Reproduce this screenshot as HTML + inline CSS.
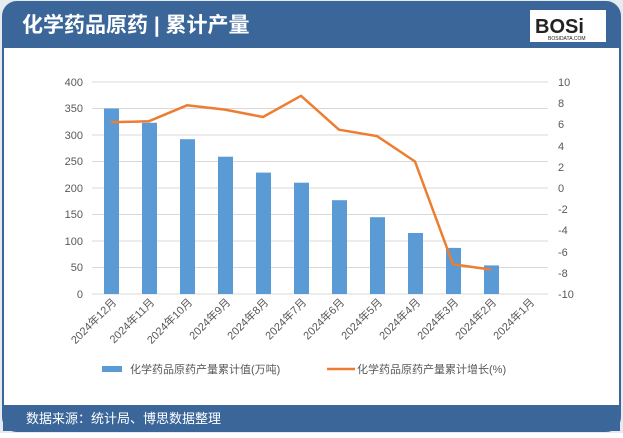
<!DOCTYPE html>
<html><head><meta charset="utf-8"><style>
body{margin:0;width:623px;height:433px;overflow:hidden;background:#fff;font-family:"Liberation Sans","Noto Sans CJK SC",sans-serif}
</style></head><body>
<svg width="623" height="433" xmlns="http://www.w3.org/2000/svg" font-family="Liberation Sans, Noto Sans CJK SC, sans-serif">
<rect x="0" y="0" width="623" height="433" fill="#e6ebf1"/>
<rect x="3" y="2" width="617" height="429" rx="14" fill="#fff" stroke="#3a6699" stroke-width="2"/>
<path d="M3 48 V16 A14 14 0 0 1 17 2 H606 A14 14 0 0 1 620 16 V48 Z" fill="#3a6699"/>
<text x="22" y="32" font-size="21" fill="#fff" font-weight="bold">化学药品原药 | 累计产量</text>
<rect x="530" y="10" width="76" height="32" fill="#fff"/>
<text x="535" y="33" font-size="20" font-weight="bold" fill="#222">BOSi</text>
<text x="548" y="40" font-size="5" fill="#222">BOSIDATA.COM</text>
<rect x="3" y="405" width="617" height="26" fill="#3a6699"/>
<text x="26" y="423" font-size="13" fill="#fff">数据来源：统计局、博思数据整理</text>
<g stroke="#d9d9d9" stroke-width="1">
<line x1="92" y1="82" x2="548" y2="82"/><line x1="92" y1="108.5" x2="548" y2="108.5"/>
<line x1="92" y1="135" x2="548" y2="135"/><line x1="92" y1="161.5" x2="548" y2="161.5"/>
<line x1="92" y1="188" x2="548" y2="188"/><line x1="92" y1="214.5" x2="548" y2="214.5"/>
<line x1="92" y1="241" x2="548" y2="241"/><line x1="92" y1="267.5" x2="548" y2="267.5"/>
<line x1="92" y1="294" x2="548" y2="294"/>
</g>
<g font-size="11" fill="#595959" text-anchor="end">
<text x="83" y="86">400</text><text x="83" y="112">350</text><text x="83" y="139">300</text>
<text x="83" y="165">250</text><text x="83" y="192">200</text><text x="83" y="218">150</text>
<text x="83" y="245">100</text><text x="83" y="271">50</text><text x="83" y="298">0</text>
</g>
<g font-size="11" fill="#595959" text-anchor="start">
<text x="558" y="86">10</text><text x="558" y="107">8</text><text x="558" y="128">6</text>
<text x="558" y="150">4</text><text x="558" y="171">2</text><text x="558" y="192">0</text>
<text x="558" y="213">-2</text><text x="558" y="234">-4</text><text x="558" y="256">-6</text>
<text x="558" y="277">-8</text><text x="558" y="298">-10</text>
</g>
<g fill="#5b9bd5">
<rect x="104" y="108.5" width="15" height="185.5"/>
<rect x="142" y="122.8" width="15" height="171.2"/>
<rect x="180" y="139.2" width="15" height="154.8"/>
<rect x="218" y="156.7" width="15" height="137.3"/>
<rect x="256" y="172.6" width="15" height="121.4"/>
<rect x="294" y="182.7" width="15" height="111.3"/>
<rect x="332" y="200.2" width="15" height="93.8"/>
<rect x="370" y="217.2" width="15" height="76.8"/>
<rect x="408" y="233" width="15" height="61"/>
<rect x="446" y="247.9" width="15" height="46.1"/>
<rect x="484" y="265.4" width="15" height="28.6"/>
</g>
<polyline fill="none" stroke="#ed7d31" stroke-width="2.5" stroke-linejoin="round" points="111,122.3 149,121.2 187,105.3 225,109.6 263,117 301,95.8 339,129.7 377,136.1 415,161.5 453,264.3 491,269.6"/>
<g font-size="11" fill="#595959" text-anchor="end">
<text transform="translate(117,303) rotate(-45)">2024年12月</text>
<text transform="translate(155,303) rotate(-45)">2024年11月</text>
<text transform="translate(193,303) rotate(-45)">2024年10月</text>
<text transform="translate(231,303) rotate(-45)">2024年9月</text>
<text transform="translate(269,303) rotate(-45)">2024年8月</text>
<text transform="translate(307,303) rotate(-45)">2024年7月</text>
<text transform="translate(345,303) rotate(-45)">2024年6月</text>
<text transform="translate(383,303) rotate(-45)">2024年5月</text>
<text transform="translate(421,303) rotate(-45)">2024年4月</text>
<text transform="translate(459,303) rotate(-45)">2024年3月</text>
<text transform="translate(497,303) rotate(-45)">2024年2月</text>
<text transform="translate(535,303) rotate(-45)">2024年1月</text>
</g>
<rect x="102" y="366" width="20" height="6" fill="#5b9bd5"/>
<text x="130" y="373" font-size="11" fill="#595959">化学药品原药产量累计值(万吨)</text>
<line x1="327" y1="369" x2="355" y2="369" stroke="#ed7d31" stroke-width="2.5"/>
<text x="357" y="373" font-size="11" fill="#595959">化学药品原药产量累计增长(%)</text>
</svg>
</body></html>
